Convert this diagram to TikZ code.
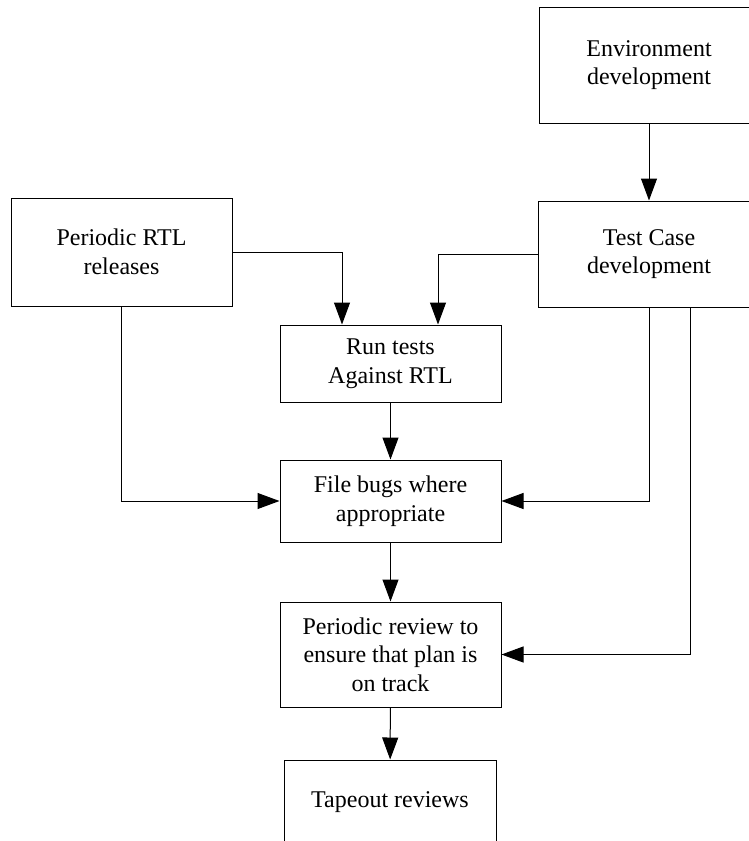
\documentclass[tikz,border=0pt]{standalone}
\usepackage{fontspec}
\setmainfont{Liberation Serif}
\usetikzlibrary{arrows.meta}
\begin{document}
\begin{tikzpicture}[x=1pt,y=-1pt,
  box/.style={draw=black,line width=1pt,inner sep=0pt,align=center,
    font=\fontsize{24}{28.5}\selectfont},
  arr/.style={draw=black,line width=1pt,-{Triangle[length=22pt,width=16pt]}}]
\clip (0,0) rectangle (749,841);
\node[box,minimum width=220pt,minimum height=116pt] (env) at (649,65) {Environment\\development};
\node[box,minimum width=222pt,minimum height=106pt] (tcd) at (649,254) {Test Case\\development};
\node[box,minimum width=221pt,minimum height=108pt] (rtl) at (121.5,252) {Periodic RTL\\releases};
\node[box,minimum width=221pt,minimum height=77pt] (run) at (390.5,363.5) {Run tests\\Against RTL};
\node[box,minimum width=221pt,minimum height=82pt] (bugs) at (390.5,501) {File bugs where\\appropriate};
\node[box,minimum width=221pt,minimum height=105pt] (review) at (390.5,654.5) {Periodic review to\\ensure that plan is\\on track};
\node[box,minimum width=212pt,minimum height=84pt] (tape) at (390,802) {Tapeout reviews};
\draw[arr] (env) -- (tcd);
\draw[arr] (rtl.east) -| ([xshift=-48.5pt]run.north);
\draw[arr] (tcd.west) -| ([xshift=47.5pt]run.north);
\draw[arr] (rtl.south) |- (bugs.west);
\draw[arr] (run) -- (bugs);
\draw[arr] (tcd.south) |- (bugs.east);
\draw[arr] ([xshift=41pt]tcd.south) |- (review.east);
\draw[arr] (bugs) -- (review);
\draw[arr] (review) -- (tape);
\end{tikzpicture}
\end{document}
